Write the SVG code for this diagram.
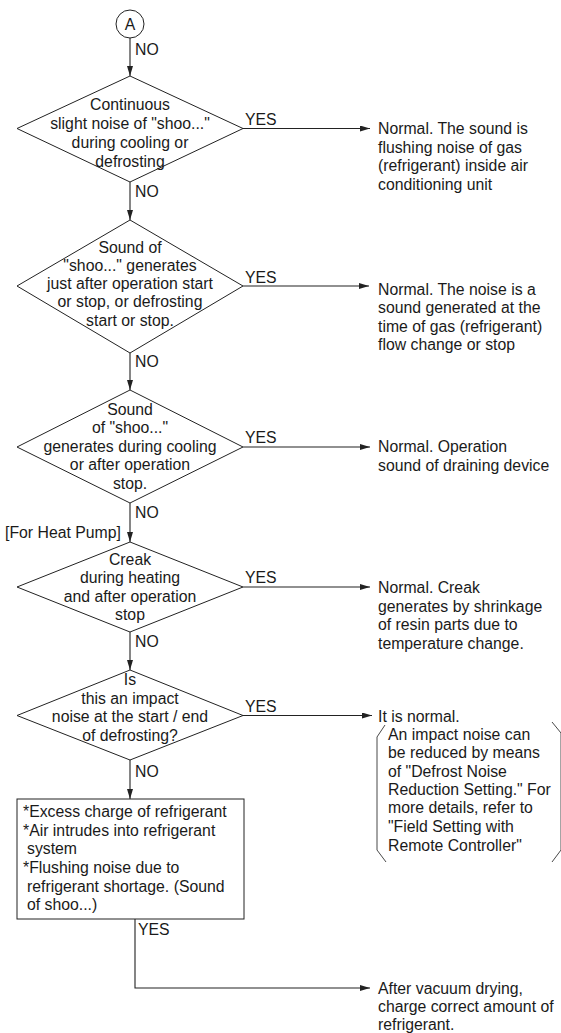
<svg xmlns="http://www.w3.org/2000/svg" width="561" height="1033" viewBox="0 0 561 1033">
  <style>
    text { font-family: "Liberation Sans", Arial, Helvetica, sans-serif; font-size: 15.8px; fill: #1a1a1a; }
    .c { text-anchor: middle; }
    .shape { fill: #ffffff; stroke: #222222; stroke-width: 1; }
    .wire { fill: none; stroke: #222222; stroke-width: 1.1; }
    .bracket { fill: none; stroke: #333333; stroke-width: 0.9; }
  </style>
  <defs>
    <marker id="arrow" viewBox="0 0 10 6" refX="10" refY="3" markerWidth="10" markerHeight="6" markerUnits="userSpaceOnUse" orient="auto">
      <path d="M0,0 L10,3 L0,6 z" fill="#222222"/>
    </marker>
  </defs>
  <rect width="561" height="1033" fill="#ffffff"/>

  <!-- connectors -->
  <g id="connectors">
    <path class="wire" d="M130,38 V76" marker-end="url(#arrow)"/>
    <path class="wire" d="M130,182 V220" marker-end="url(#arrow)"/>
    <path class="wire" d="M130,353 V390" marker-end="url(#arrow)"/>
    <path class="wire" d="M130,503 V542" marker-end="url(#arrow)"/>
    <path class="wire" d="M130,632 V670" marker-end="url(#arrow)"/>
    <path class="wire" d="M130,760 V799" marker-end="url(#arrow)"/>
    <path class="wire" d="M243,128.5 H370" marker-end="url(#arrow)"/>
    <path class="wire" d="M243,286 H369" marker-end="url(#arrow)"/>
    <path class="wire" d="M243,447 H370" marker-end="url(#arrow)"/>
    <path class="wire" d="M243,587 H370" marker-end="url(#arrow)"/>
    <path class="wire" d="M243,715.5 H372" marker-end="url(#arrow)"/>
    <path class="wire" d="M135,919 V988 H370" marker-end="url(#arrow)"/>

    <text x="135" y="55">NO</text>
    <text x="135" y="197">NO</text>
    <text x="135" y="367">NO</text>
    <text x="135" y="518">NO</text>
    <text x="135" y="647">NO</text>
    <text x="135" y="777">NO</text>
    <text x="245" y="125">YES</text>
    <text x="245" y="283">YES</text>
    <text x="245" y="443">YES</text>
    <text x="245" y="583">YES</text>
    <text x="245" y="712">YES</text>
    <text x="138" y="935">YES</text>
    <text x="5" y="538">[For Heat Pump]</text>
  </g>

  <!-- start connector -->
  <g id="start-a">
    <circle class="shape" cx="130" cy="24" r="14"/>
    <text class="c" x="130" y="30">A</text>
  </g>

  <!-- decisions -->
  <g id="q-continuous-noise">
    <polygon class="shape" points="130,76 243,128.5 130,182 17,128.5"/>
    <text class="c" x="130" y="110">Continuous</text>
    <text class="c" x="130" y="129">slight noise of "shoo..."</text>
    <text class="c" x="130" y="148">during cooling or</text>
    <text class="c" x="130" y="167">defrosting</text>
  </g>

  <g id="q-start-stop">
    <polygon class="shape" points="130,220 243,286 130,353 17,286"/>
    <text class="c" x="130" y="253">Sound of</text>
    <text class="c" x="130" y="271">"shoo..." generates</text>
    <text class="c" x="130" y="289">just after operation start</text>
    <text class="c" x="130" y="307">or stop, or defrosting</text>
    <text class="c" x="130" y="326">start or stop.</text>
  </g>

  <g id="q-draining">
    <polygon class="shape" points="130,390 243,447 130,503 17,447"/>
    <text class="c" x="130" y="415">Sound</text>
    <text class="c" x="130" y="433">of "shoo..."</text>
    <text class="c" x="130" y="452">generates during cooling</text>
    <text class="c" x="130" y="470">or after operation</text>
    <text class="c" x="130" y="489">stop.</text>
  </g>

  <g id="q-creak">
    <polygon class="shape" points="130,542 243,587 130,632 17,587"/>
    <text class="c" x="130" y="565">Creak</text>
    <text class="c" x="130" y="583">during heating</text>
    <text class="c" x="130" y="602">and after operation</text>
    <text class="c" x="130" y="620">stop</text>
  </g>

  <g id="q-impact">
    <polygon class="shape" points="130,670 243,715.5 130,760 17,715.5"/>
    <text class="c" x="130" y="685">Is</text>
    <text class="c" x="130" y="704">this an impact</text>
    <text class="c" x="130" y="722">noise at the start / end</text>
    <text class="c" x="130" y="741">of defrosting?</text>
  </g>

  <!-- cause box -->
  <g id="causes">
    <rect class="shape" x="17" y="799" width="227" height="120"/>
    <text x="23" y="817">*Excess charge of refrigerant</text>
    <text x="23" y="836">*Air intrudes into refrigerant</text>
    <text x="27" y="854">system</text>
    <text x="23" y="873">*Flushing noise due to</text>
    <text x="27" y="892">refrigerant shortage. (Sound</text>
    <text x="27" y="910">of shoo...)</text>
  </g>

  <!-- outcomes -->
  <g id="r-gas-flow">
    <text x="378" y="134">Normal. The sound is</text>
    <text x="378" y="153">flushing noise of gas</text>
    <text x="378" y="171">(refrigerant) inside air</text>
    <text x="378" y="190">conditioning unit</text>
  </g>

  <g id="r-flow-change">
    <text x="378" y="295">Normal. The noise is a</text>
    <text x="378" y="313">sound generated at the</text>
    <text x="378" y="332">time of gas (refrigerant)</text>
    <text x="378" y="350">flow change or stop</text>
  </g>

  <g id="r-draining">
    <text x="378" y="452">Normal. Operation</text>
    <text x="378" y="471">sound of draining device</text>
  </g>

  <g id="r-creak">
    <text x="378" y="593">Normal. Creak</text>
    <text x="378" y="612">generates by shrinkage</text>
    <text x="378" y="630">of resin parts due to</text>
    <text x="378" y="649">temperature change.</text>
  </g>

  <g id="r-impact">
    <text x="378" y="722">It is normal.</text>
    <path class="bracket" d="M385,725 L377,737 V850 L386,862"/>
    <path class="bracket" d="M552,722 L561,733 V850 L552,862"/>
    <text x="388" y="740">An impact noise can</text>
    <text x="388" y="758">be reduced by means</text>
    <text x="388" y="777">of "Defrost Noise</text>
    <text x="388" y="795">Reduction Setting." For</text>
    <text x="388" y="813">more details, refer to</text>
    <text x="388" y="832">"Field Setting with</text>
    <text x="388" y="851">Remote Controller"</text>
  </g>

  <g id="r-recharge">
    <text x="378" y="994">After vacuum drying,</text>
    <text x="378" y="1012">charge correct amount of</text>
    <text x="378" y="1030">refrigerant.</text>
  </g>
</svg>
